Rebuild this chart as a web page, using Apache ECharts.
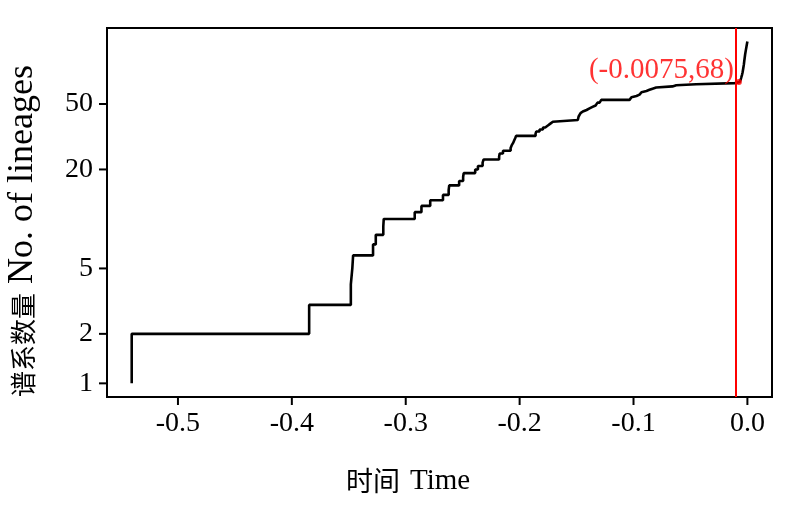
<!DOCTYPE html>
<html>
<head>
<meta charset="utf-8">
<script src="https://cdn.jsdelivr.net/npm/echarts@6/dist/echarts.min.js"></script>
<style>
html,body{margin:0;padding:0;background:#fff;}
#chart{width:800px;height:515px;background:#fff;}
</style>
</head>
<body>
<div id="chart"></div>
<script>
// Lineage-through-time: time at which each lineage count begins
const times = [
  -0.5406, -0.5406, -0.3848, -0.3482, -0.3469, -0.3462, -0.3287, -0.3263, -0.3197, -0.3193,
  -0.2921, -0.2862, -0.2785, -0.2673, -0.2623, -0.2618, -0.2531, -0.2496, -0.2491, -0.2390,
  -0.2366, -0.2325, -0.2316, -0.2180, -0.2175, -0.2146, -0.2079, -0.2070, -0.2057, -0.2048,
  -0.2039, -0.2031, -0.1860, -0.1854, -0.1825, -0.1795, -0.1775, -0.1752, -0.1730, -0.1708,
  -0.1489, -0.1482, -0.1474, -0.1465, -0.1452, -0.1445, -0.1412, -0.1386, -0.1360, -0.1333,
  -0.1316, -0.1298, -0.1283, -0.1035, -0.1018, -0.1006, -0.0974, -0.0947, -0.0930, -0.0918,
  -0.0886, -0.0860, -0.0833, -0.0801, -0.0658, -0.0625, -0.0450, -0.0110, -0.0068, -0.0060,
  -0.0055, -0.0048, -0.0042, -0.0037, -0.0031, -0.0026, -0.0020, -0.0014, -0.0008, -0.0003,
  0.0000
];
const lineages = [
  1, 2, 3, 4, 5, 6, 7, 8, 9, 10,
  11, 12, 13, 14, 15, 16, 17, 18, 19, 20,
  21, 22, 23, 24, 25, 26, 27, 28, 29, 30,
  31, 32, 33, 34, 35, 36, 37, 38, 39, 40,
  41, 42, 43, 44, 45, 46, 47, 48, 49, 50,
  51, 52, 53, 54, 55, 56, 57, 58, 59, 60,
  61, 62, 63, 64, 65, 66, 67, 68, 69, 70,
  72, 75, 78, 82, 87, 93, 100, 106, 112, 117,
  120
];
const xTicks = [-0.5, -0.4, -0.3, -0.2, -0.1, 0.0];
const xTickLabels = ['-0.5', '-0.4', '-0.3', '-0.2', '-0.1', '0.0'];
const yTicks = [1, 2, 5, 20, 50];
const yTickLabels = ['1', '2', '5', '20', '50'];
const markTime = [-0.0075];
const markCount = [68];

const serif = 'Liberation Serif';
const cjk = 'Noto Sans CJK SC';
const lineData = times.map((t, i) => [t, lineages[i]]);
const markData = markTime.map((t, i) => [t, markCount[i]]);
const X_MIN = -0.5623, X_MAX = 0.0216, Y_MIN = 0.826, Y_MAX = 145;
const TICK_LEN = 8;

const chart = echarts.init(document.getElementById('chart'));
chart.setOption({
  animation: false,
  grid: {left: 107, right: 28, top: 28, bottom: 118, show: true, borderColor: '#000', borderWidth: 2},
  xAxis: {
    type: 'value', min: X_MIN, max: X_MAX,
    axisLine: {show: false, onZero: false},
    splitLine: {show: false},
    axisTick: {show: false},
    axisLabel: {show: false}
  },
  yAxis: {
    type: 'log', min: Y_MIN, max: Y_MAX,
    axisLine: {show: false, onZero: false},
    splitLine: {show: false},
    minorTick: {show: false},
    axisTick: {show: false},
    axisLabel: {show: false}
  },
  graphic: [
    {type: 'text', left: 346, top: 467, style: {text: '时间', fontFamily: cjk, fontSize: 27, fill: '#000'}},
    {type: 'text', left: 410, top: 467, style: {text: 'Time', fontFamily: serif, fontSize: 29, fill: '#000'}},
    {type: 'text', x: 23, y: 397, rotation: Math.PI / 2,
      style: {text: '谱系数量', fontFamily: cjk, fontSize: 26, fill: '#000', align: 'left', verticalAlign: 'middle'}},
    {type: 'text', x: 23, y: 284, rotation: Math.PI / 2,
      style: {text: 'No. of lineages', fontFamily: serif, fontSize: 36, fill: '#000', align: 'left', verticalAlign: 'middle'}}
  ],
  series: [
    {
      type: 'line', data: lineData, step: 'end', showSymbol: false, symbol: 'none',
      lineStyle: {color: '#000', width: 2.6}, z: 3,
      markLine: {silent: true, symbol: 'none', label: {show: false},
        lineStyle: {color: '#ff0000', width: 2, type: 'solid'},
        data: markTime.map(t => ({xAxis: t}))}
    },
    {
      type: 'scatter', data: markData, symbol: 'circle', symbolSize: 6, z: 5,
      itemStyle: {color: '#ff0000'},
      label: {show: true, position: 'left', distance: 2, offset: [0, -12], color: '#ff0000',
        fontFamily: serif, fontSize: 29,
        formatter: p => '(' + p.value[0] + ',' + p.value[1] + ')'}
    },
    {
      // x-axis ticks and labels
      type: 'custom', clip: false, z: 20,
      data: xTicks.map(v => [v, Y_MIN]), encode: {x: 0, y: 1},
      renderItem: (params, api) => {
        const p = api.coord([api.value(0), Y_MIN]);
        return {type: 'group', children: [
          {type: 'rect', shape: {x: p[0] - 1, y: p[1], width: 2, height: TICK_LEN},
            style: {fill: '#000', stroke: null}},
          {type: 'text', x: p[0], y: p[1] + 27,
            style: {text: xTickLabels[params.dataIndex], fontFamily: serif, fontSize: 28, fill: '#000',
              align: 'center', verticalAlign: 'middle'}}
        ]};
      }
    },
    {
      // y-axis ticks and labels
      type: 'custom', clip: false, z: 20,
      data: yTicks.map(v => [X_MIN, v]), encode: {x: 0, y: 1},
      renderItem: (params, api) => {
        const p = api.coord([X_MIN, api.value(1)]);
        return {type: 'group', children: [
          {type: 'rect', shape: {x: p[0] - TICK_LEN, y: p[1] - 1, width: TICK_LEN, height: 2},
            style: {fill: '#000', stroke: null}},
          {type: 'text', x: p[0] - 14, y: p[1],
            style: {text: yTickLabels[params.dataIndex], fontFamily: serif, fontSize: 28, fill: '#000',
              align: 'right', verticalAlign: 'middle'}}
        ]};
      }
    }
  ]
});
</script>
</body>
</html>
